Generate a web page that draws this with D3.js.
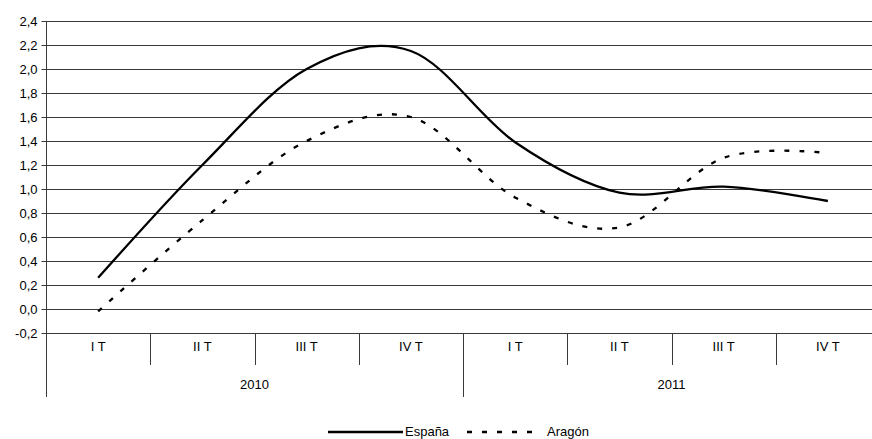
<!DOCTYPE html>
<html>
<head>
<meta charset="utf-8">
<script src="https://cdn.jsdelivr.net/npm/d3@7"></script>
<style>
  html, body { margin: 0; padding: 0; background: #fff; }
  svg { display: block; font-family: "Liberation Sans", Arial, sans-serif; }
</style>
</head>
<body>
<svg id="chart" width="872" height="439"></svg>
<script>
const years = ["2010", "2011"];
const quarters = ["I T", "II T", "III T", "IV T"];
const categories = ["2010-I T","2010-II T","2010-III T","2010-IV T","2011-I T","2011-II T","2011-III T","2011-IV T"];
const espana = [0.26, 1.20, 2.00, 2.15, 1.39, 0.97, 1.02, 0.90];
const aragon = [-0.02, 0.74, 1.40, 1.60, 0.93, 0.68, 1.26, 1.30];
const seriesNames = ["España", "Aragón"];
const yTicks = [-0.2, 0.0, 0.2, 0.4, 0.6, 0.8, 1.0, 1.2, 1.4, 1.6, 1.8, 2.0, 2.2, 2.4];

(function () {
const svg = d3.select("#chart");
const pLeft = 46, pRight = 880, pTop = 21, pBottom = 333;
const x = d3.scaleBand().domain(categories).range([pLeft, pRight]).padding(0);
const y = d3.scaleLinear().domain([-0.2, 2.4]).range([pBottom, pTop]);
const gridColor = "#3a3a3a";
const textColor = "#000";
const fs = 13;
const fmt = v => d3.format(".1f")(v).replace(".", ",").replace("−", "-");

// gridlines
svg.append("g").selectAll("line").data(yTicks).join("line")
  .attr("x1", pLeft).attr("x2", pRight)
  .attr("y1", d => Math.round(y(d)) + 0.5).attr("y2", d => Math.round(y(d)) + 0.5)
  .attr("stroke", gridColor).attr("stroke-width", 1);

// y axis
const yAxis = d3.axisLeft(y).tickValues(yTicks).tickFormat(fmt).tickSize(5).tickPadding(4);
const gy = svg.append("g").attr("transform", `translate(${pLeft + 0.5},0)`).call(yAxis);
gy.select(".domain").remove();
gy.selectAll(".tick").attr("transform", d => `translate(0,${Math.round(y(d)) + 0.5})`);
gy.selectAll(".tick line").attr("stroke", gridColor);
gy.selectAll(".tick text").attr("font-size", fs).attr("fill", textColor)
  .attr("font-family", "Liberation Sans, Arial, sans-serif");
svg.append("line").attr("x1", pLeft + 0.5).attr("x2", pLeft + 0.5)
  .attr("y1", pTop).attr("y2", 397).attr("stroke", gridColor);

// category separators
const bw = x.bandwidth();
categories.forEach((c, i) => {
  if (i % 4 !== 0) {
    svg.append("line").attr("x1", Math.round(x(c)) + 0.5).attr("x2", Math.round(x(c)) + 0.5)
      .attr("y1", pBottom).attr("y2", 365).attr("stroke", gridColor);
  }
});
years.forEach((yr, j) => {
  const xs = x(categories[j * 4]);
  if (j > 0) {
    svg.append("line").attr("x1", Math.round(xs) + 0.5).attr("x2", Math.round(xs) + 0.5)
      .attr("y1", pBottom).attr("y2", 397).attr("stroke", gridColor);
  }
  svg.append("text").attr("x", xs + bw * 2).attr("y", 389)
    .attr("text-anchor", "middle").attr("font-size", fs).attr("fill", textColor).text(yr);
});
categories.forEach((c, i) => {
  svg.append("text").attr("x", x(c) + bw / 2).attr("y", 351)
    .attr("text-anchor", "middle").attr("font-size", fs).attr("fill", textColor)
    .text(quarters[i % 4]);
});

// lines
const line = d3.line()
  .x((d, i) => x(categories[i]) + bw / 2)
  .y(d => y(d))
  .curve(d3.curveCatmullRom.alpha(0));
svg.append("path").attr("d", line(espana)).attr("fill", "none")
  .attr("stroke", "#000").attr("stroke-width", 2.3);
svg.append("path").attr("d", line(aragon)).attr("fill", "none")
  .attr("stroke", "#000").attr("stroke-width", 2.3).attr("stroke-dasharray", "5,10");

// legend
const lg = svg.append("g");
lg.append("line").attr("x1", 328).attr("x2", 403).attr("y1", 432).attr("y2", 432)
  .attr("stroke", "#000").attr("stroke-width", 2.3);
lg.append("text").attr("x", 405).attr("y", 436).attr("font-size", fs).attr("fill", textColor).text(seriesNames[0]);
lg.append("line").attr("x1", 467).attr("x2", 533).attr("y1", 432).attr("y2", 432)
  .attr("stroke", "#000").attr("stroke-width", 2.3).attr("stroke-dasharray", "5,10");
lg.append("text").attr("x", 547).attr("y", 436).attr("font-size", fs).attr("fill", textColor).text(seriesNames[1]);
})();
</script>
</body>
</html>
